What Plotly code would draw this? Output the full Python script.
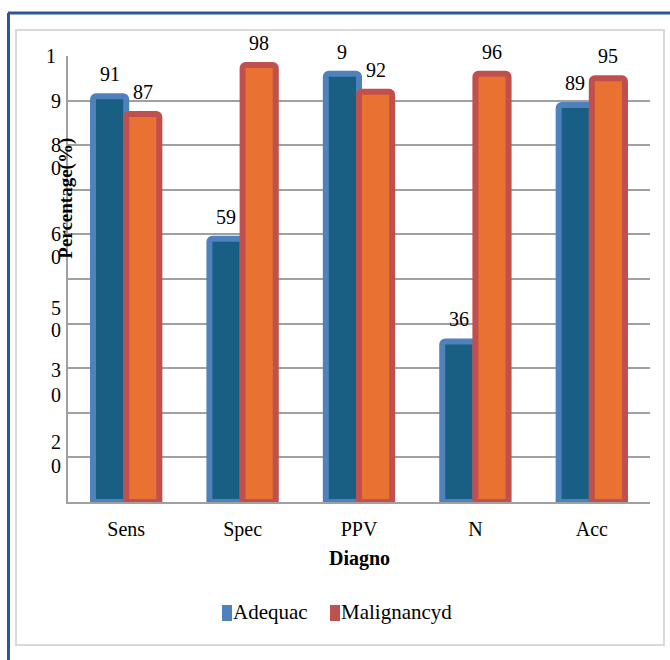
import plotly.graph_objects as go

# Diagnostic measures and the two series shown
categories = ["Sens", "Spec", "PPV", "N", "Acc"]
adequacy = [91, 59, 96, 36, 89]
malignancy = [87, 98, 92, 96, 95]
adequacy_labels = ["91", "59", "9", "36", "89"]
malignancy_labels = ["87", "98", "92", "96", "95"]

# Wrapped y-axis tick labels (one glyph per line) and their axis positions
ytick_text = ["1", "9", "8", "0", "6", "0", "5", "0", "3", "0", "2", "0"]
ytick_pos = [100, 90, 80, 75, 60, 55, 43.5, 38.6, 29.6, 24, 13.5, 8.1]

W, H = 670, 660
ML, MR, MT, MB = 68, 20, 56, 158
PW, PH = W - ML - MR, H - MT - MB
BARGAP = 0.43

SERIF = "Liberation Serif, Times New Roman, serif"
GRID = "#A0A0A0"


def px(x):
    return (x - ML) / PW


def py(y):
    return (H - MB - y) / PH


fig = go.Figure()
fig.add_trace(go.Bar(
    x=categories, y=adequacy, name="Adequac",
    marker=dict(color="#195E83", line=dict(color="#4F81BD", width=6),
                cornerradius=3),
))
fig.add_trace(go.Bar(
    x=categories, y=malignancy, name="Malignancyd",
    marker=dict(color="#E97132", line=dict(color="#C0504D", width=6),
                cornerradius=3),
))

annotations = []
bar_w = PW / len(categories) * (1 - BARGAP) / 2
for labels, values, sign in ((adequacy_labels, adequacy, -1),
                             (malignancy_labels, malignancy, 1)):
    for cat, lab, val in zip(categories, labels, values):
        annotations.append(dict(
            x=cat, y=val, xref="x", yref="y", text=lab, showarrow=False,
            xanchor="center", yanchor="bottom", xshift=sign * bar_w / 2,
            yshift=9, font=dict(family=SERIF, size=20, color="black"),
        ))

for t, p in zip(ytick_text, ytick_pos):
    annotations.append(dict(
        x=0, y=p, xref="paper", yref="y", text=t, showarrow=False,
        xanchor="center", yanchor="middle", xshift=-17 if p == 100 else -12,
        font=dict(family=SERIF, size=20, color="black"),
    ))

# Axis titles
annotations.append(dict(
    x=0, y=68, xref="paper", yref="y", text="<b>Percentage(%)</b>",
    textangle=-90, showarrow=False, xanchor="center", yanchor="middle",
    xshift=-2, font=dict(family=SERIF, size=19, color="black"),
))
annotations.append(dict(
    x=0.5, y=py(558), xref="paper", yref="paper", text="<b>Diagno</b>",
    showarrow=False, xanchor="center", yanchor="middle",
    font=dict(family=SERIF, size=20, color="black"),
))

# Legend entries
shapes = []
legend_items = [("Adequac", "#4F81BD", 222), ("Malignancyd", "#C0504D", 330)]
for name, col, x0 in legend_items:
    shapes.append(dict(type="rect", xref="paper", yref="paper",
                       x0=px(x0), x1=px(x0 + 10), y0=py(621), y1=py(605),
                       fillcolor=col, line=dict(width=0)))
    annotations.append(dict(
        x=px(x0 + 10), y=py(612), xref="paper", yref="paper", text=name,
        showarrow=False, xanchor="left", yanchor="middle", xshift=-1,
        font=dict(family=SERIF, size=21, color="black"),
    ))

# Chart frame: outer blue border and inner grey chart-area box
shapes.append(dict(type="line", xref="paper", yref="paper",
                   x0=px(8), x1=px(672), y0=py(13), y1=py(13),
                   line=dict(color="#2E54A0", width=3)))
shapes.append(dict(type="line", xref="paper", yref="paper",
                   x0=px(8.5), x1=px(8.5), y0=py(13), y1=py(662),
                   line=dict(color="#2E54A0", width=3)))
shapes.append(dict(type="rect", xref="paper", yref="paper",
                   x0=px(16), x1=px(664), y0=py(645), y1=py(30),
                   line=dict(color="#D9D9D9", width=2)))

fig.update_layout(
    width=W, height=H,
    margin=dict(l=ML, r=MR, t=MT, b=MB, pad=0),
    paper_bgcolor="white", plot_bgcolor="white",
    barmode="group", bargap=BARGAP, bargroupgap=0,
    showlegend=False,
    font=dict(family=SERIF, size=20, color="black"),
    annotations=annotations, shapes=shapes,
    xaxis=dict(
        showgrid=False, showline=True, linecolor=GRID, linewidth=2,
        ticks="", ticklabelstandoff=8,
        tickfont=dict(family=SERIF, size=20, color="black"),
    ),
    yaxis=dict(
        range=[0, 100], tickvals=list(range(0, 101, 10)),
        showticklabels=False, showgrid=True, gridcolor=GRID, gridwidth=1.5,
        showline=True, linecolor=GRID, linewidth=1.5, zeroline=False,
        ticks="",
    ),
)

fig.write_html("out.html")
